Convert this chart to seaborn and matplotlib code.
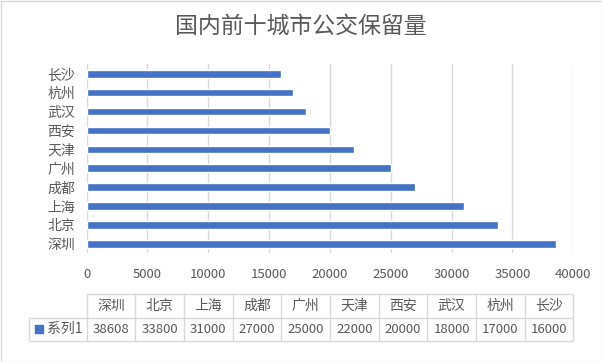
import matplotlib
matplotlib.use("Agg")
import matplotlib.pyplot as plt
from matplotlib.patches import Rectangle
import seaborn as sns
import pandas as pd

# data (table order, as in the data table under the chart)
cities = ["深圳", "北京", "上海", "成都", "广州", "天津", "西安", "武汉", "杭州", "长沙"]
values = [38608, 33800, 31000, 27000, 25000, 22000, 20000, 18000, 17000, 16000]
series_name = "系列1"
title = "国内前十城市公交保留量"
x_ticks = [0, 5000, 10000, 15000, 20000, 25000, 30000, 35000, 40000]

BLUE = "#4472C4"
TEXT = "#595959"
GRID = "#D9D9D9"

sns.set_style("white")
plt.rcParams["font.family"] = ["Noto Sans CJK SC", "DejaVu Sans"]

W, H = 602, 362
fig = plt.figure(figsize=(W / 100, H / 100), dpi=100)


def px_box(x0, y0, x1, y1):
    # pixel box (top-left origin) -> figure fraction rect
    return [x0 / W, 1 - y1 / H, (x1 - x0) / W, (y1 - y0) / H]


# bar chart
ax = fig.add_axes(px_box(86.5, 64.4, 573.3, 253.2))
df = pd.DataFrame({"city": cities, "value": values})
sns.barplot(data=df, x="value", y="city", order=cities[::-1], orient="y",
            color=BLUE, saturation=1, width=0.4, ax=ax)
ax.set_xlim(0, 40000)
ax.set_xticks(x_ticks)
ax.set_xticklabels([str(t) for t in x_ticks])
ax.set_xlabel("")
ax.set_ylabel("")
ax.grid(axis="x", color=GRID, linewidth=1)
ax.set_axisbelow(True)
for s in ax.spines.values():
    s.set_visible(False)
ax.tick_params(axis="x", length=0, pad=11, labelsize=9.5, labelcolor=TEXT)
ax.tick_params(axis="y", length=0, pad=8, labelsize=10, labelcolor=TEXT)

# data table below the chart
lab_w = (86.7 - 29.3) / ((573.3 - 86.7) / 10)
tax = fig.add_axes(px_box(29.3, 294.3, 573.3, 341.0))
tax.set_xlim(-lab_w, len(cities))
tax.set_ylim(0, 2)
tax.axis("off")
n = len(cities)
tax.hlines(2, 0, n, color=GRID, lw=1, clip_on=False)
tax.hlines([0, 1], -lab_w, n, color=GRID, lw=1, clip_on=False)
tax.vlines(range(n + 1), 0, 2, color=GRID, lw=1, clip_on=False)
tax.vlines(-lab_w, 0, 1, color=GRID, lw=1, clip_on=False)
for i, (c, v) in enumerate(zip(cities, values)):
    tax.text(i + 0.5, 1.5, c, ha="center", va="center", fontsize=10, color=TEXT)
    tax.text(i + 0.5, 0.5, str(v), ha="center", va="center", fontsize=9.5, color=TEXT)
tax.scatter([-lab_w + 0.2], [0.5], marker="s", s=36, color=BLUE, clip_on=False)
tax.text(-lab_w + 0.36, 0.5, series_name, ha="left", va="center", fontsize=10, color=TEXT)

fig.text(0.5, 1 - 26 / H, title, ha="center", va="center", fontsize=16.5,
         fontweight="light", color=TEXT)

fig.add_artist(Rectangle((0.5 / W, 0.5 / H), 1 - 1 / W, 1 - 1 / H,
                         transform=fig.transFigure, fill=False,
                         edgecolor=GRID, linewidth=1))

fig.savefig("out.png", dpi=100)
